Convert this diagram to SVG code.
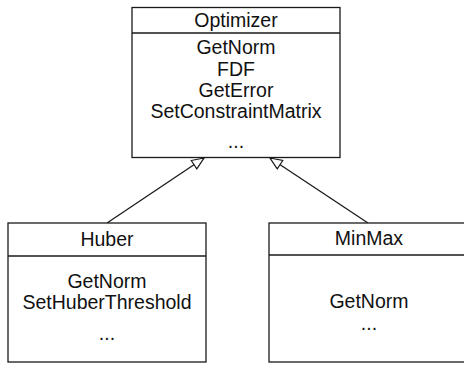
<svg xmlns="http://www.w3.org/2000/svg" width="464" height="373" viewBox="0 0 464 373">
<style>
.box{fill:#fff;stroke:#1a1a1a;stroke-width:1.3}
.sep{stroke:#1a1a1a;stroke-width:1.3}
.t{font-family:"Liberation Sans",Arial,sans-serif;font-size:19.5px;fill:#111;text-anchor:middle}
.edge{stroke:#1a1a1a;stroke-width:1.3;fill:none}
</style>
<defs>
<marker id="tri" markerUnits="userSpaceOnUse" markerWidth="14" markerHeight="12" viewBox="0 0 14 12" refX="13" refY="6" orient="auto">
<path d="M1,1 L13,6 L1,11 z" fill="#fff" stroke="#1a1a1a" stroke-width="1.2"/>
</marker>
</defs>
<g id="connectors">
<line class="edge" x1="107" y1="223" x2="204" y2="158" marker-end="url(#tri)"/>
<line class="edge" x1="368" y1="223" x2="270" y2="158" marker-end="url(#tri)"/>
</g>
<g id="optimizer">
<rect class="box" x="132" y="7.5" width="208" height="150"/>
<line class="sep" x1="132" y1="33" x2="340" y2="33"/>
<text class="t" x="236" y="27">Optimizer</text>
<text class="t" x="236" y="54">GetNorm</text>
<text class="t" x="236" y="76">FDF</text>
<text class="t" x="236" y="97">GetError</text>
<text class="t" x="236" y="118">SetConstraintMatrix</text>
<text class="t" x="236" y="148">...</text>
</g>
<g id="huber">
<rect class="box" x="8" y="223" width="198" height="139"/>
<line class="sep" x1="8" y1="256" x2="206" y2="256"/>
<text class="t" x="107" y="246">Huber</text>
<text class="t" x="107" y="288">GetNorm</text>
<text class="t" x="107" y="309">SetHuberThreshold</text>
<text class="t" x="107" y="340">...</text>
</g>
<g id="minmax">
<rect class="box" x="269" y="223" width="200" height="139"/>
<line class="sep" x1="269" y1="255" x2="469" y2="255"/>
<text class="t" x="369" y="245">MinMax</text>
<text class="t" x="369" y="308">GetNorm</text>
<text class="t" x="369" y="330">...</text>
</g>
</svg>
